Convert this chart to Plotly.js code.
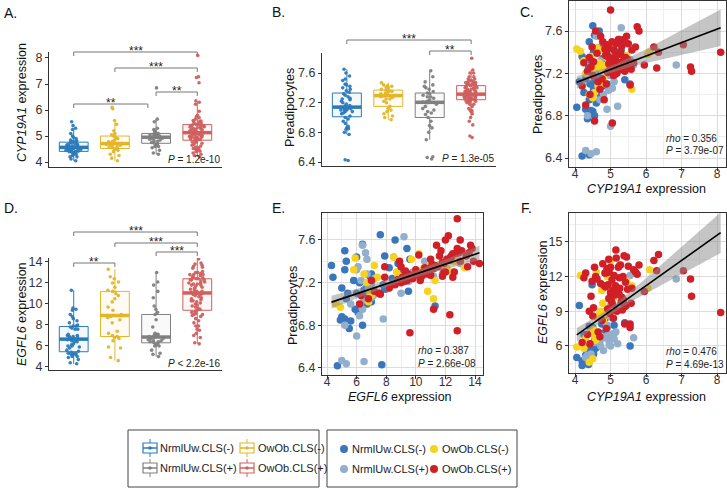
<!DOCTYPE html>
<html><head><meta charset="utf-8">
<script src="https://cdn.plot.ly/plotly-3.0.1.min.js"></script>
<style>html,body{margin:0;padding:0;background:#fff}#chart{width:727px;height:488px}</style>
</head><body><div id="chart"></div>
<script>
// ---------------- DATA (per-sample values, read/estimated from the figure) ----------------
const groupNames = ['NrmlUw.CLS(-)', 'OwOb.CLS(-)', 'NrmlUw.CLS(+)', 'OwOb.CLS(+)'];

// NrmlUw.CLS(-)
const blueCyp  = [4.20,4.40,4.05,4.30,4.45,4.50,4.55,4.35,4.60,4.40,4.48,4.70,4.25,4.52,4.65,4.80,4.58,4.42,4.12,4.90,5.55,4.62,4.55,4.75,4.30,4.68,5.10,4.50,4.58,4.85,4.38,4.72,4.60,5.00,4.45,4.78,4.20,4.95,4.52,5.30,4.65,4.82,4.40,5.25,4.55,4.68,4.50,5.40];
const bluePre  = [6.42,6.43,6.88,6.86,6.85,6.84,6.80,6.77,6.92,6.95,6.98,7.00,7.02,7.05,7.06,7.08,7.08,7.10,7.12,7.10,7.10,7.12,7.13,7.14,7.15,7.16,7.18,7.20,7.22,7.24,7.25,7.26,7.28,7.30,7.32,7.34,7.36,7.38,7.40,7.42,7.44,7.45,7.50,7.52,7.56,7.60,7.65,7.14];
const blueEgfl = [4.7,7.7,5.0,5.2,4.9,5.6,6.4,5.5,6.1,5.9,11.3,6.7,7.0,5.3,6.9,7.1,6.6,5.4,9.5,7.6,6.0,6.8,6.5,7.9,5.0,6.7,7.8,6.2,5.8,8.4,4.4,6.9,7.0,9.0,5.2,8.2,4.3,8.8,5.3,9.6,6.0,7.9,5.2,9.4,6.4,8.6,7.6,8.0];

// OwOb.CLS(-)
const yellowCyp  = [4.05,4.15,6.10,6.05,5.60,4.60,5.00,4.40,4.50,4.55,4.65,4.70,4.75,4.80,4.30,4.95,4.72,4.85,4.58,5.05,4.68,4.25,5.20,4.90,4.45,5.45,4.78,4.62,5.10,4.52];
const yellowPre  = [7.43,7.41,7.40,7.38,7.05,7.30,7.34,7.00,6.97,7.02,7.08,7.10,7.12,7.15,7.20,7.22,7.25,7.27,7.28,7.29,7.30,7.32,7.33,7.35,7.36,7.37,7.42,7.44,7.47,7.25];
const yellowEgfl = [5.9,12.1,12.6,11.0,11.2,12.4,13.3,4.6,4.9,6.8,7.0,6.9,10.8,8.2,6.7,11.3,9.0,8.8,6.5,9.4,8.7,5.8,10.5,12.0,7.2,11.6,9.7,8.5,10.2,7.4];

// NrmlUw.CLS(+)
const grayCyp  = [4.30,4.45,4.60,5.00,4.35,4.90,5.20,4.70,4.80,4.95,5.05,4.65,4.85,5.10,4.75,4.98,4.92,5.00,4.55,5.15,4.88,6.85,5.05,4.72,5.55,4.96,5.25,5.08,4.82,5.65,5.00,4.60,5.30,5.10];
const grayPre  = [6.47,6.44,6.46,6.70,6.80,6.86,6.89,6.95,7.00,7.04,7.06,7.08,7.10,7.12,7.15,7.18,7.20,7.21,7.22,7.24,7.26,7.28,7.30,7.32,7.33,7.35,7.38,7.40,7.42,7.28,7.44,7.55,7.63,7.48];
const grayEgfl = [5.0,5.3,6.5,6.0,5.2,7.8,6.2,6.4,5.6,6.5,7.0,7.1,9.0,7.1,6.8,7.0,6.9,9.5,6.3,7.2,11.2,11.8,9.8,6.0,12.1,6.1,13.0,10.6,6.7,6.7,8.5,6.4,9.2,6.6];

// OwOb.CLS(+)
const redCyp  = [8.10,7.05,7.28,7.25,6.35,6.30,6.22,5.95,5.80,5.75,5.70,5.65,5.60,5.55,5.50,5.45,5.42,5.40,5.38,5.35,5.32,5.30,5.28,5.25,5.22,5.20,5.18,5.16,5.14,5.12,5.10,5.08,5.06,5.05,5.04,5.02,5.00,5.00,4.98,4.96,4.95,4.93,4.92,4.90,5.24,4.88,4.86,5.33,4.84,4.82,5.36,4.78,4.76,5.44,4.72,4.70,5.48,4.65,4.62,5.58,4.58,4.55,4.52,4.50,4.48,4.45,4.42,4.40,4.35,4.30,4.25,4.20,4.88,5.15,4.95,5.26,5.55,5.40];
const redPre  = [7.40,7.47,7.22,7.26,7.40,7.25,7.45,7.28,7.60,7.64,7.45,7.30,7.42,7.25,7.48,7.55,7.35,7.22,7.52,7.30,7.46,7.24,7.40,7.38,7.52,7.28,7.20,7.48,7.33,7.26,7.42,7.18,7.31,6.73,7.50,7.27,7.80,7.34,7.23,7.44,7.29,7.36,7.21,7.47,7.30,7.10,7.37,7.25,7.43,6.95,7.32,7.50,7.15,7.28,7.55,7.05,7.33,7.12,7.39,7.24,7.60,6.75,7.31,7.18,7.45,7.26,7.00,7.35,7.22,6.90,7.30,7.08,7.41,7.38,7.35,7.27,7.09,7.35];
const redEgfl = [8.9,12.5,10.3,11.8,13.9,12.5,13.4,10.7,13.0,12.2,12.4,12.6,11.0,7.9,12.9,13.7,11.5,9.4,13.8,12.0,10.2,9.8,13.0,11.9,12.8,10.9,9.0,13.6,11.2,10.4,12.1,8.4,10.8,9.6,11.7,9.9,12.8,10.6,8.8,12.4,10.1,11.3,9.2,12.7,10.5,7.5,11.1,9.1,12.3,11.2,10.0,13.1,8.2,9.5,11.4,6.8,10.9,7.2,11.8,9.7,12.0,12.8,9.3,8.6,11.6,10.3,6.2,9.0,7.0,12.3,11.9,6.3,12.3,14.3,13.5,11.0,7.6,7.9];

// test labels
const kruskalP   = ['1.2e-10', '1.3e-05', '2.2e-16'];
const rhoValues  = ['0.356', '0.387', '0.476'];
const rhoP       = ['3.79e-07', '2.66e-08', '4.69e-13'];

// ---------------- helpers ----------------
const W = 727, H = 488;
const X = p => p / W, Y = p => 1 - p / H;
const FONT = '"Liberation Sans", Arial, sans-serif';
function hexA(h, a) {
  const r = parseInt(h.slice(1,3),16), g = parseInt(h.slice(3,5),16), b = parseInt(h.slice(5,7),16);
  return `rgba(${r},${g},${b},${a})`;
}
function median(arr) {
  const s = arr.slice().sort((a,b)=>a-b); const n = s.length;
  return n % 2 ? s[(n-1)/2] : (s[n/2-1] + s[n/2]) / 2;
}

const groups = [
  {name: groupNames[0], cyp: blueCyp,   pre: bluePre,   egfl: blueEgfl,   box: '#2B7BBA', dot: '#3A76BC'},
  {name: groupNames[1], cyp: yellowCyp, pre: yellowPre, egfl: yellowEgfl, box: '#E3B62A', dot: '#F7D31E'},
  {name: groupNames[2], cyp: grayCyp,   pre: grayPre,   egfl: grayEgfl,   box: '#808080', dot: '#92AFCB'},
  {name: groupNames[3], cyp: redCyp,    pre: redPre,    egfl: redEgfl,    box: '#D0605E', dot: '#D01F26'}
];

const traces = [];
const shapes = [];
const annotations = [];

// ---------------- box panels ----------------
function boxPanel(key, xa, ya) {
  groups.forEach((g, i) => {
    traces.push({
      type: 'box', y: g[key], x0: i, xaxis: xa, yaxis: ya, name: g.name,
      width: 0.7, boxpoints: 'all', jitter: 0.6, pointpos: 0, whiskerwidth: 0,
      line: {color: g.box, width: 1}, fillcolor: hexA(g.box, 0.05),
      marker: {color: g.box, size: 3.6, opacity: 0.95},
      hoverinfo: 'skip', showlegend: false
    });
    const m = median(g[key]);
    shapes.push({type: 'line', layer: 'below', xref: xa, yref: ya, x0: i - 0.35, x1: i + 0.35, y0: m, y1: m,
      line: {color: g.box, width: 3.5}});
  });
}
boxPanel('cyp', 'x', 'y');
boxPanel('pre', 'x2', 'y2');
boxPanel('egfl', 'x4', 'y4');

// ---------------- scatter panels ----------------
const drawOrder = [0, 2, 1, 3];
function scatterPanel(kx, ky, xa, ya) {
  const allX = [], allY = [];
  drawOrder.forEach(i => {
    const g = groups[i];
    traces.push({type: 'scatter', mode: 'markers', x: g[kx], y: g[ky], xaxis: xa, yaxis: ya,
      marker: {color: g.dot, size: 7.5}, hoverinfo: 'skip', showlegend: false});
  });
  groups.forEach(g => { allX.push(...g[kx]); allY.push(...g[ky]); });
  // least squares fit with 95% confidence band
  const n = allX.length;
  const xb = allX.reduce((a,b)=>a+b,0)/n, yb = allY.reduce((a,b)=>a+b,0)/n;
  let sxx = 0, sxy = 0;
  for (let k = 0; k < n; k++) { sxx += (allX[k]-xb)**2; sxy += (allX[k]-xb)*(allY[k]-yb); }
  const b = sxy / sxx, a = yb - b * xb;
  let sse = 0; for (let k = 0; k < n; k++) sse += (allY[k] - a - b*allX[k])**2;
  const s = Math.sqrt(sse / (n - 2)), t = 1.972;
  const mn = Math.min(...allX), mx = Math.max(...allX);
  const xs = [], yl = [], up = [], lo = [];
  for (let k = 0; k <= 60; k++) {
    const x = mn + (mx - mn) * k / 60; xs.push(x);
    const yhat = a + b * x, se = s * Math.sqrt(1/n + (x-xb)**2/sxx);
    yl.push(yhat); up.push(yhat + t*se); lo.push(yhat - t*se);
  }
  traces.push({type: 'scatter', mode: 'lines', x: xs.concat(xs.slice().reverse()), y: up.concat(lo.slice().reverse()),
    xaxis: xa, yaxis: ya, fill: 'toself', fillcolor: 'rgba(140,140,140,0.5)', line: {width: 0}, hoverinfo: 'skip', showlegend: false});
  traces.push({type: 'scatter', mode: 'lines', x: xs, y: yl, xaxis: xa, yaxis: ya,
    line: {color: '#000', width: 1.6}, hoverinfo: 'skip', showlegend: false});
}
scatterPanel('cyp', 'pre', 'x3', 'y3');
scatterPanel('egfl', 'pre', 'x5', 'y5');
scatterPanel('cyp', 'egfl', 'x6', 'y6');

// ---------------- significance brackets ----------------
function bracket(xa, i0, i1, py, label) {
  shapes.push({type: 'path', xref: xa, yref: 'paper',
    path: `M ${i0},${Y(py+4)} L ${i0},${Y(py)} L ${i1},${Y(py)} L ${i1},${Y(py+4)}`,
    line: {color: '#777', width: 1}});
  annotations.push({xref: xa, yref: 'paper', x: (i0+i1)/2, y: Y(py-1), text: label, showarrow: false,
    yanchor: 'middle', font: {family: FONT, size: 12, color: '#222'}});
}
bracket('x', 0, 3, 52, '***'); bracket('x', 1, 3, 68, '***'); bracket('x', 2, 3, 92, '**'); bracket('x', 0, 1.8, 104, '**');
bracket('x2', 0, 3, 40, '***'); bracket('x2', 2, 3, 51, '**');
bracket('x4', 0, 3, 232, '***'); bracket('x4', 1, 3, 243, '***'); bracket('x4', 2, 3, 252, '***'); bracket('x4', 0, 1, 263, '**');

// ---------------- texts ----------------
function txt(px, py, text, opts) {
  annotations.push(Object.assign({xref: 'paper', yref: 'paper', x: X(px), y: Y(py), text, showarrow: false,
    xanchor: 'left', yanchor: 'middle', font: {family: FONT, size: 11, color: '#222'}}, opts || {}));
}
// panel letters
[['A.',2,13],['B.',270,12],['C.',518,12],['D.',2,208],['E.',270,208],['F.',519,208]].forEach(([t,x,y]) =>
  txt(x, y, t, {font: {family: FONT, size: 14, color: '#111'}}));
// axis titles
const tf = {family: FONT, size: 12.5, color: '#111'};
txt(22, 103, '<i>CYP19A1</i> expression', {textangle: -90, xanchor: 'center', font: tf});
txt(290, 108, 'Preadipocytes', {textangle: -90, xanchor: 'center', font: tf});
txt(538, 95, 'Preadipocytes', {textangle: -90, xanchor: 'center', font: tf});
txt(22, 314, '<i>EGFL6</i> expression', {textangle: -90, xanchor: 'center', font: tf});
txt(293, 306, 'Preadipocytes', {textangle: -90, xanchor: 'center', font: tf});
txt(543, 292, '<i>EGFL6</i> expression', {textangle: -90, xanchor: 'center', font: tf});
txt(646, 189, '<i>CYP19A1</i> expression', {xanchor: 'center', font: tf});
txt(400, 397, '<i>EGFL6</i> expression', {xanchor: 'center', font: tf});
txt(646, 397, '<i>CYP19A1</i> expression', {xanchor: 'center', font: tf});
// p values
const sf = {family: FONT, size: 10, color: '#222'};
txt(222, 160, `<i>P</i> = ${kruskalP[0]}`, {xanchor: 'right', font: sf});
txt(496, 159, `<i>P</i> = ${kruskalP[1]}`, {xanchor: 'right', font: sf});
txt(222, 363, `<i>P</i> < ${kruskalP[2]}`, {xanchor: 'right', font: sf});
txt(664, 138, `<i>rho</i> = ${rhoValues[0]}`, {font: sf}); txt(664, 151, `<i>P</i> = ${rhoP[0]}`, {font: sf});
txt(416, 350, `<i>rho</i> = ${rhoValues[1]}`, {font: sf}); txt(416, 363, `<i>P</i> = ${rhoP[1]}`, {font: sf});
txt(664, 351, `<i>rho</i> = ${rhoValues[2]}`, {font: sf}); txt(664, 364, `<i>P</i> = ${rhoP[2]}`, {font: sf});

// ---------------- legends (drawn) ----------------
function rectPx(x0, y0, x1, y1, style) {
  shapes.push(Object.assign({type: 'rect', xref: 'paper', yref: 'paper', x0: X(x0), x1: X(x1), y0: Y(y1), y1: Y(y0)}, style));
}
function linePx(x0, y0, x1, y1, style) {
  shapes.push(Object.assign({type: 'line', xref: 'paper', yref: 'paper', x0: X(x0), x1: X(x1), y0: Y(y0), y1: Y(y1)}, style));
}
rectPx(128, 430, 319, 487, {line: {color: '#444', width: 1}, fillcolor: 'rgba(0,0,0,0)'});
rectPx(327, 430, 517, 487, {line: {color: '#444', width: 1}, fillcolor: 'rgba(0,0,0,0)'});
const legPos1 = [[150, 448, 158], [247, 448, 256], [150, 468, 158], [247, 468, 256]];
const legPos2 = [[344, 449, 350], [434, 449, 440], [344, 469, 350], [434, 469, 440]];
groups.forEach((g, i) => {
  const [cx, cy, tx] = legPos1[i];
  linePx(cx, cy - 9, cx, cy + 9, {line: {color: g.box, width: 1}});
  rectPx(cx - 7, cy - 5, cx + 7, cy + 5, {line: {color: g.box, width: 1.2}, fillcolor: '#fff'});
  linePx(cx - 7, cy, cx + 7, cy, {line: {color: g.box, width: 1.5}});
  rectPx(cx - 1.8, cy - 1.8, cx + 1.8, cy + 1.8, {type: 'circle', line: {width: 0}, fillcolor: g.box});
  txt(tx, cy, g.name, {font: {family: FONT, size: 11, color: '#222'}});
  const [dx, dy, tx2] = legPos2[i];
  rectPx(dx - 4, dy - 4, dx + 4, dy + 4, {type: 'circle', line: {width: 0}, fillcolor: g.dot});
  txt(tx2, dy, g.name, {font: {family: FONT, size: 11, color: '#222'}});
});

// ---------------- axes ----------------
const tickFont = {family: FONT, size: 12.5, color: '#333'};
const base = {zeroline: false, showline: true, linecolor: '#333', linewidth: 1, ticks: 'outside', ticklen: 3,
  tickcolor: '#333', tickfont: tickFont, fixedrange: true, showgrid: false};
const boxX = (d0, d1, ya) => Object.assign({}, base, {type: 'linear', domain: [X(d0), X(d1)], range: [-0.6, 3.6],
  ticks: '', showticklabels: false, anchor: ya});
const frame = {mirror: true, showgrid: true, gridcolor: '#dcdcdc', gridwidth: 1};
const xFrame = Object.assign({}, frame, {ticklabelstandoff: -7, tickfont: {family: FONT, size: 12, color: '#333'}});

const layout = {
  width: W, height: H, margin: {l: 0, r: 0, t: 0, b: 0}, showlegend: false,
  paper_bgcolor: '#fff', plot_bgcolor: '#fff', font: {family: FONT},
  xaxis: boxX(49, 222, 'y'),
  yaxis: Object.assign({}, base, {domain: [Y(167), Y(52)], range: [3.81, 8.23], tick0: 4, dtick: 1, anchor: 'x'}),
  xaxis2: boxX(322, 496, 'y2'),
  yaxis2: Object.assign({}, base, {domain: [Y(166), Y(53)], range: [6.346, 7.87], tick0: 6.4, dtick: 0.4, tickformat: '.1f', anchor: 'x2'}),
  xaxis3: Object.assign({}, base, xFrame, {domain: [X(569), X(726)], range: [3.83, 8.25], tick0: 4, dtick: 1,
    minor: {showgrid: true, gridcolor: '#efefef', dtick: 0.5}, anchor: 'y3'}),
  yaxis3: Object.assign({}, base, frame, {domain: [Y(167), Y(1)], range: [6.315, 7.884], tick0: 6.4, dtick: 0.4, tickformat: '.1f',
    minor: {showgrid: true, gridcolor: '#efefef', dtick: 0.2}, anchor: 'x3'}),
  xaxis4: boxX(49, 222, 'y4'),
  yaxis4: Object.assign({}, base, {domain: [Y(370), Y(258)], range: [3.71, 14.38], tick0: 4, dtick: 2, anchor: 'x4'}),
  xaxis5: Object.assign({}, base, xFrame, {domain: [X(322), X(483)], range: [3.66, 14.54], tick0: 0, dtick: 2,
    minor: {showgrid: true, gridcolor: '#efefef', dtick: 1}, anchor: 'y5'}),
  yaxis5: Object.assign({}, base, frame, {domain: [Y(375), Y(213)], range: [6.334, 7.853], tick0: 6.4, dtick: 0.4, tickformat: '.1f',
    minor: {showgrid: true, gridcolor: '#efefef', dtick: 0.2}, anchor: 'x5'}),
  xaxis6: Object.assign({}, base, xFrame, {domain: [X(569), X(726)], range: [3.83, 8.25], tick0: 4, dtick: 1,
    minor: {showgrid: true, gridcolor: '#efefef', dtick: 0.5}, anchor: 'y6'}),
  yaxis6: Object.assign({}, base, frame, {domain: [Y(373), Y(213)], range: [3.66, 17.5], tick0: 0, dtick: 3,
    minor: {showgrid: true, gridcolor: '#efefef', dtick: 1.5}, anchor: 'x6'}),
  shapes, annotations
};

Plotly.newPlot('chart', traces, layout, {displayModeBar: false, staticPlot: true});
</script>
</body></html>
